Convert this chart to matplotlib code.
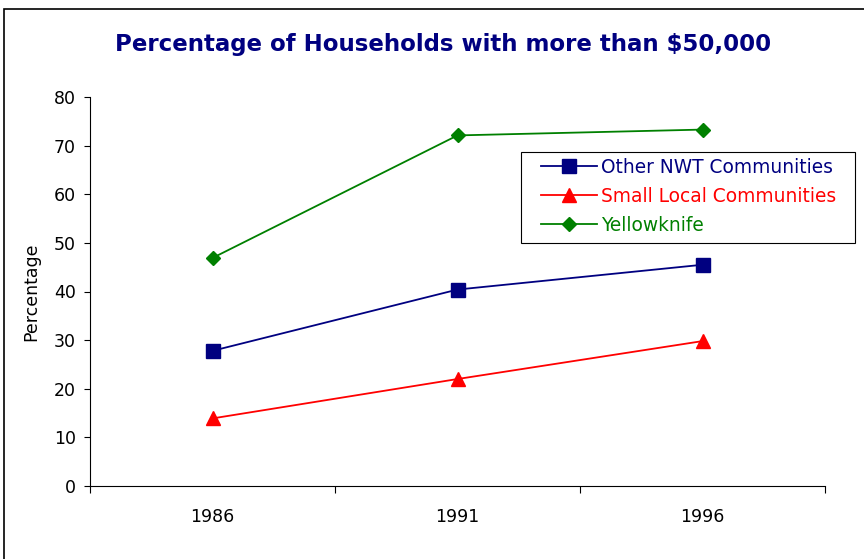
import matplotlib
matplotlib.use("Agg")
import matplotlib.pyplot as plt
from matplotlib.patches import Rectangle
from matplotlib.ticker import FixedLocator, NullFormatter

years = ["1986", "1991", "1996"]
other_nwt = [27.8, 40.4, 45.5]
small_local = [13.9, 22.0, 29.8]
yellowknife = [46.9, 72.1, 73.3]

series_names = ["Other NWT Communities", "Small Local Communities", "Yellowknife"]
title = "Percentage of Households with more than $50,000"

W, H = 864, 559
fig = plt.figure(figsize=(W / 100, H / 100), dpi=100)
fig.patch.set_facecolor("white")

# outer chart frame (only left and top edges fall inside the image)
fig.patches.append(Rectangle((4 / W, -0.05), 1.1, 1 - 9 / H + 0.05,
                             transform=fig.transFigure, fill=False,
                             edgecolor="black", linewidth=1.2))

ax = fig.add_axes([90 / W, 1 - 486 / H, (825 - 90) / W, (486 - 97) / H])
x = list(range(len(years)))

ax.plot(x, other_nwt, color="#000080", marker="s", markersize=9.5,
        linewidth=1.3, label=series_names[0])
ax.plot(x, small_local, color="#FF0000", marker="^", markersize=9.5,
        linewidth=1.3, label=series_names[1])
ax.plot(x, yellowknife, color="#008000", marker="D", markersize=7.5,
        linewidth=1.3, label=series_names[2])

ax.set_xlim(-0.5, len(years) - 0.5)
ax.set_ylim(0, 80)
ax.set_yticks(range(0, 81, 10))
ax.set_xticks(x)
ax.set_xticklabels(years)
ax.xaxis.set_minor_locator(FixedLocator([i - 0.5 for i in range(len(years) + 1)]))
ax.xaxis.set_minor_formatter(NullFormatter())
ax.tick_params(axis="x", which="major", length=0, pad=16, labelsize=12.5)
ax.tick_params(axis="x", which="minor", length=5, width=0.8, direction="out")
ax.tick_params(axis="y", length=4, width=0.8, direction="out", pad=6, labelsize=12.5)

for side in ("top", "right"):
    ax.spines[side].set_visible(False)
for side in ("left", "bottom"):
    ax.spines[side].set_linewidth(0.8)

ax.set_ylabel("Percentage", fontsize=12.5, labelpad=10)

fig.text(443 / W, 1 - 45 / H, title, ha="center", va="center",
         fontsize=16.5, fontweight="bold", color="#000080")

# legend box drawn separately so its padding can be set freely
ax.add_patch(Rectangle((521 / W, 1 - 243 / H), (855 - 521) / W, (243 - 152) / H,
                       transform=fig.transFigure, fill=True, clip_on=False,
                       facecolor="white", edgecolor="black",
                       linewidth=0.8, zorder=5))
leg = ax.legend(loc="upper left", bbox_to_anchor=(541 / W, 1 - 158 / H),
                bbox_transform=fig.transFigure, fontsize=13.4,
                frameon=False, handlelength=3.0, handletextpad=0.25,
                borderpad=0, labelspacing=0.53, borderaxespad=0)
leg.set_zorder(6)
for text, line in zip(leg.get_texts(), leg.get_lines()):
    text.set_color(line.get_color())

fig.savefig("out.png", dpi=100, facecolor="white")
